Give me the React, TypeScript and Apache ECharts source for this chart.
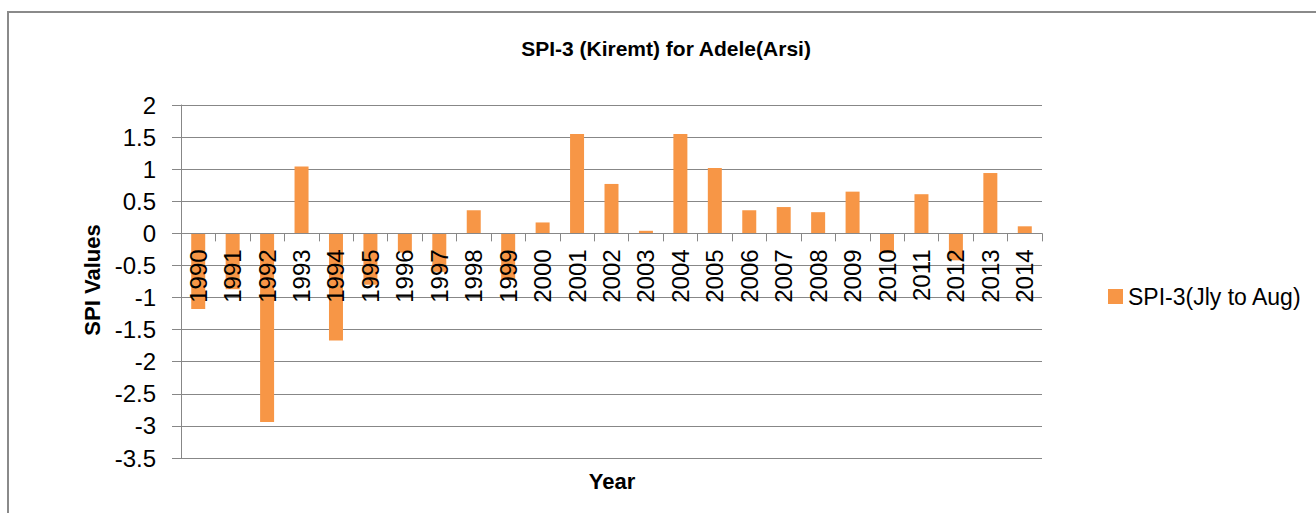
import React, { useEffect, useRef } from "react";
import * as echarts from "echarts";

const years = [
  "1990", "1991", "1992", "1993", "1994", "1995", "1996", "1997", "1998", "1999",
  "2000", "2001", "2002", "2003", "2004", "2005", "2006", "2007", "2008", "2009",
  "2010", "2011", "2012", "2013", "2014",
];
const spiValues = [
  -1.18, -0.87, -2.94, 1.04, -1.67, -0.8, -0.3, -0.6, 0.36, -0.72,
  0.17, 1.55, 0.77, 0.04, 1.55, 1.02, 0.36, 0.41, 0.33, 0.65,
  -0.31, 0.61, -0.42, 0.94, 0.11,
];
const seriesName = "SPI-3(Jly to Aug)";
const chartTitle = "SPI-3 (Kiremt) for Adele(Arsi)";
const yTitle = "SPI Values";
const xTitle = "Year";
const yMin = -3.5;
const yMax = 2;
const yStep = 0.5;

const FONT = "'Liberation Sans', Arial, sans-serif";
const GRID = "#878787";

const W = 1316;
const H = 513;
const G_TOP = 105;
const G_BOTTOM = 55;
const plotH = H - G_TOP - G_BOTTOM;
const zeroOffset = -(plotH * (0 - yMin)) / (yMax - yMin);

export default function App() {
  const ref = useRef<HTMLDivElement>(null);
  useEffect(() => {
    if (!ref.current) return;
    const chart = echarts.init(ref.current, null, { renderer: "svg" });
    chart.setOption({
      animation: false,
      backgroundColor: "#ffffff",
      textStyle: { fontFamily: FONT },
      grid: {
        left: 181,
        right: 274,
        top: G_TOP,
        bottom: G_BOTTOM,
        containLabel: false,
        outerBoundsMode: "none",
      },
      legend: {
        data: [seriesName],
        left: 1103,
        top: 280,
        icon: "rect",
        itemWidth: 15,
        itemHeight: 15,
        itemGap: 6,
        textStyle: { fontSize: 23, color: "#000", fontFamily: FONT },
      },
      xAxis: {
        type: "category",
        data: years,
        boundaryGap: true,
        offset: zeroOffset,
        z: 10,
        axisLine: { show: true, onZero: false, lineStyle: { color: GRID, width: 1 } },
        axisTick: { show: true, alignWithLabel: false, length: 8, lineStyle: { color: GRID } },
        axisLabel: {
          rotate: 90,
          interval: 0,
          margin: 16,
          fontSize: 24,
          color: "#000",
          fontFamily: FONT,
          hideOverlap: false,
        },
        splitLine: { show: false },
      },
      yAxis: {
        type: "value",
        min: yMin,
        max: yMax,
        interval: yStep,
        z: 0,
        axisLine: { show: true, lineStyle: { color: GRID, width: 1 } },
        axisTick: { show: true, length: 9, lineStyle: { color: GRID } },
        axisLabel: { fontSize: 24, color: "#000", margin: 25, fontFamily: FONT },
        splitLine: { show: true, lineStyle: { color: GRID, width: 1 } },
      },
      series: [
        {
          name: seriesName,
          type: "bar",
          data: spiValues,
          barWidth: 14,
          itemStyle: { color: "#F79646" },
          z: 2,
        },
      ],
      graphic: [
        {
          type: "rect",
          shape: { x: 8, y: 12, width: 1400, height: 600 },
          style: { fill: "none", stroke: "#8a8a8a", lineWidth: 2 },
          silent: true,
        },
        {
          type: "text",
          x: 666,
          y: 48,
          style: {
            text: chartTitle,
            fontSize: 21,
            fontWeight: "bold",
            fontFamily: FONT,
            fill: "#000",
            textAlign: "center",
            textVerticalAlign: "middle",
          },
        },
        {
          type: "text",
          x: 92,
          y: 280,
          rotation: Math.PI / 2,
          style: {
            text: yTitle,
            fontSize: 22,
            fontWeight: "bold",
            fontFamily: FONT,
            fill: "#000",
            textAlign: "center",
            textVerticalAlign: "middle",
          },
        },
        {
          type: "text",
          x: 612,
          y: 481,
          style: {
            text: xTitle,
            fontSize: 22,
            fontWeight: "bold",
            fontFamily: FONT,
            fill: "#000",
            textAlign: "center",
            textVerticalAlign: "middle",
          },
        },
      ],
    });
    return () => chart.dispose();
  }, []);
  return (
    <div
      ref={ref}
      style={{ position: "fixed", left: 0, top: 0, width: W, height: H, background: "#fff" }}
    />
  );
}
